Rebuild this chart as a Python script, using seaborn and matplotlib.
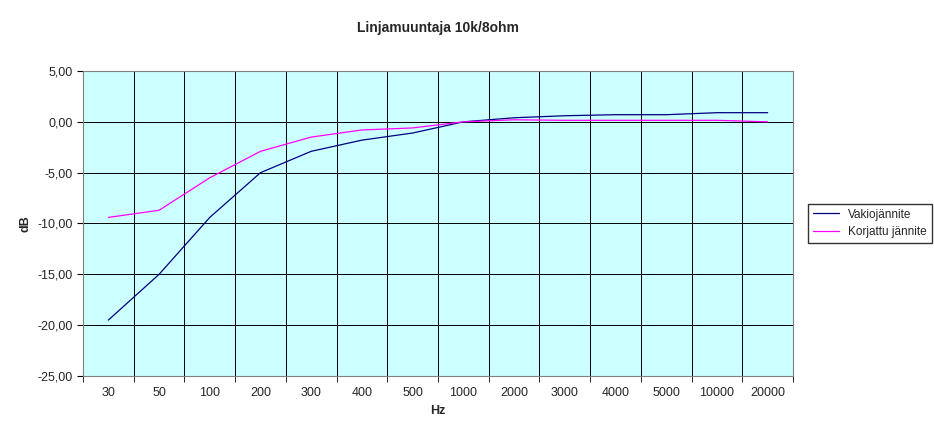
import matplotlib
matplotlib.use("Agg")
import matplotlib.pyplot as plt
import seaborn as sns
import pandas as pd
import numpy as np

freqs = ["30", "50", "100", "200", "300", "400", "500", "1000", "2000",
         "3000", "4000", "5000", "10000", "20000"]
vakio = [-19.5, -15.0, -9.4, -5.0, -2.9, -1.8, -1.1, 0.0, 0.4, 0.6, 0.7, 0.7, 0.9, 0.9]
korjattu = [-9.4, -8.7, -5.5, -2.9, -1.5, -0.8, -0.6, 0.0, 0.2, 0.15, 0.15, 0.15, 0.15, 0.0]

df = pd.DataFrame({"Hz": freqs * 2,
                   "dB": vakio + korjattu,
                   "sarja": ["Vakiojännite"] * 14 + ["Korjattu jännite"] * 14})
df["x"] = list(range(14)) * 2

sns.set_style("white")
plt.rcParams["font.family"] = ["Liberation Sans", "DejaVu Sans"]
fig = plt.figure(figsize=(9.34, 4.45), dpi=100)
ax = fig.add_axes([83 / 934, 1 - 376 / 445, 710 / 934, 305 / 445])
ax.set_facecolor("#CCFFFF")

sns.lineplot(data=df, x="x", y="dB", hue="sarja",
             palette={"Vakiojännite": "#000080", "Korjattu jännite": "#FF00FF"},
             linewidth=0.9, ax=ax)

ax.set_xlim(-0.5, 13.5)
ax.set_ylim(-25, 5)
ax.set_xticks(range(14))
ax.set_xticklabels(freqs, fontsize=9)
ax.set_xticks(np.arange(-0.5, 14, 1), minor=True)
ax.set_yticks(range(-25, 6, 5))
ax.set_yticklabels([f"{v:.2f}".replace(".", ",") for v in range(-25, 6, 5)], fontsize=9)
ax.grid(False)
ax.grid(True, which="minor", axis="x", color="black", linewidth=0.7)
ax.grid(True, which="major", axis="y", color="black", linewidth=0.7)
ax.tick_params(axis="x", which="major", length=0, pad=8)
ax.tick_params(axis="x", which="minor", length=4, bottom=True, color="black")
ax.tick_params(axis="y", length=4, left=True, color="black")
for s in ax.spines.values():
    s.set_color("#808080")
    s.set_linewidth(0.8)

ax.set_xlabel("Hz", fontsize=9, fontweight="bold")
ax.set_ylabel("dB", fontsize=9, fontweight="bold")
ax.set_title("Linjamuuntaja 10k/8ohm", fontsize=10, fontweight="bold", pad=28)

ax.legend(loc="center left", bbox_to_anchor=(1.013, 0.5), frameon=True,
          fancybox=False, edgecolor="black", fontsize=8.5, handlelength=2.2,
          borderpad=0.4)

fig.savefig("out.png", dpi=100)
